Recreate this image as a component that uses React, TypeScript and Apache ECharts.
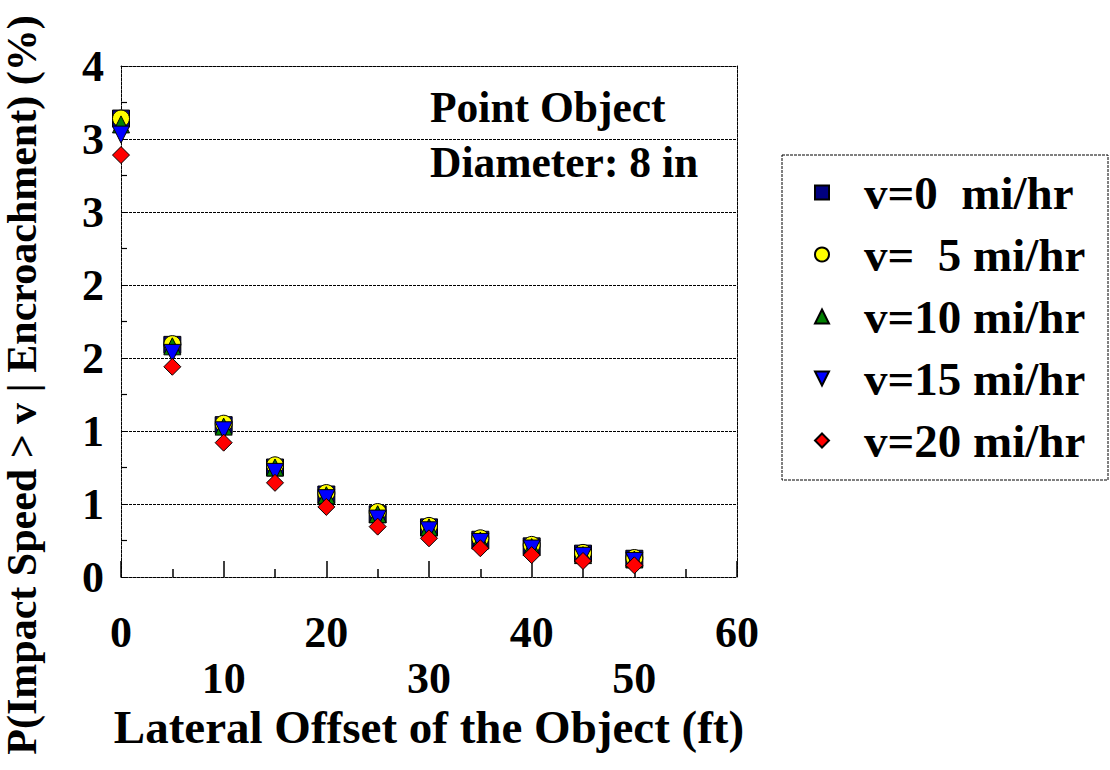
import React, { useEffect, useRef } from 'react';
import * as echarts from 'echarts';

// Lateral offset of the object (ft)
const offsets = [0, 5, 10, 15, 20, 25, 30, 35, 40, 45, 50];

// P(Impact Speed > v | Encroachment) (%)
const pV0 = [3.14, 1.59, 1.04, 0.75, 0.565, 0.43, 0.34, 0.255, 0.21, 0.16, 0.125];
const pV5 = [3.14, 1.595, 1.05, 0.765, 0.575, 0.445, 0.35, 0.265, 0.22, 0.165, 0.13];
const pV10 = [3.1, 1.58, 1.03, 0.75, 0.56, 0.43, 0.34, 0.25, 0.205, 0.15, 0.12];
const pV15 = [3.03, 1.535, 1.005, 0.72, 0.54, 0.4, 0.32, 0.24, 0.195, 0.145, 0.11];
const pV20 = [2.89, 1.44, 0.92, 0.645, 0.48, 0.345, 0.265, 0.197, 0.15, 0.11, 0.08];

const seriesNames = ['v=0  mi/hr', 'v=  5 mi/hr', 'v=10 mi/hr', 'v=15 mi/hr', 'v=20 mi/hr'];
const seriesValues = [pV0, pV5, pV10, pV15, pV20];
const seriesColors = ['#000080', '#FFFF00', '#008000', '#0000FF', '#FF0000'];
const seriesSymbols = ['rect', 'circle', 'triangle', 'path://M0,0L10,0L5,10Z', 'diamond'];

const yTitle = 'P(Impact Speed > v | Encroachment) (%)';
const xTitle = 'Lateral Offset of the Object (ft)';
const noteLines = ['Point Object', 'Diameter: 8 in'];

const FONT = '"Liberation Serif", "Times New Roman", serif';

export default function App() {
  const ref = useRef<HTMLDivElement>(null);
  useEffect(() => {
    const chart = echarts.init(ref.current!, null, { renderer: 'svg' });
    const dotted = { color: '#000', width: 1, type: [3, 1] as any };
    const option: any = {
      animation: false,
      backgroundColor: '#fff',
      grid: { left: 121, right: 373, top: 66, bottom: 193, containLabel: false },
      xAxis: [
        {
          type: 'value',
          min: 0,
          max: 60,
          interval: 10,
          axisLine: { show: true, lineStyle: dotted },
          axisTick: { show: true, inside: true, length: 16, lineStyle: { color: '#000', width: 1.5 } },
          minorTick: { show: true, splitNumber: 2, length: 8, lineStyle: { color: '#000', width: 1.5 } },
          splitLine: { show: false },
          axisLabel: {
            margin: 32,
            fontFamily: FONT,
            fontWeight: 'bold',
            fontSize: 44,
            color: '#000',
            lineHeight: 46,
            formatter: (v: number) => ((v / 10) % 2 === 1 ? '\n' + v : String(v)),
          },
        },
        {
          type: 'value',
          position: 'top',
          min: 0,
          max: 60,
          interval: 10,
          axisLine: { show: true, onZero: false, lineStyle: dotted },
          axisTick: { show: false },
          axisLabel: { show: false },
          splitLine: { show: false },
        },
      ],
      yAxis: [
        {
          type: 'value',
          min: 0,
          max: 3.5,
          interval: 0.5,
          axisLine: { show: true, lineStyle: dotted },
          axisTick: { show: true, inside: true, length: 6, lineStyle: { color: '#000' } },
          minorTick: { show: true, splitNumber: 2, length: 6, lineStyle: { color: '#000', width: 1.2 } },
          splitLine: { show: true, lineStyle: dotted },
          axisLabel: {
            margin: 17,
            fontFamily: FONT,
            fontWeight: 'bold',
            fontSize: 44,
            color: '#000',
            formatter: (v: number) => String(Math.round(v)),
          },
        },
        {
          type: 'value',
          position: 'right',
          min: 0,
          max: 3.5,
          interval: 0.5,
          axisLine: { show: true, onZero: false, lineStyle: dotted },
          axisTick: { show: false },
          axisLabel: { show: false },
          splitLine: { show: false },
        },
      ],
      legend: {
        orient: 'vertical',
        left: 782,
        top: 155,
        padding: [14, 10, 14, 32],
        itemWidth: 14,
        itemHeight: 14,
        itemGap: 15,
        textStyle: {
          fontFamily: FONT,
          fontWeight: 'bold',
          fontSize: 47,
          color: '#000',
          lineHeight: 46,
          padding: [0, 0, 0, 30],
        },
        data: seriesNames,
      },
      series: seriesNames.map((name, i) => ({
        type: 'scatter',
        name,
        symbol: seriesSymbols[i],
        symbolSize: 17,
        symbolKeepAspect: true,
        itemStyle: { color: seriesColors[i], borderColor: '#000', borderWidth: 1, opacity: 1 },
        data: offsets.map((x, j) => [x, seriesValues[i][j]]),
      })),
      graphic: [
        {
          type: 'rect',
          shape: { x: 782, y: 155, width: 326, height: 325 },
          style: { fill: 'none', stroke: '#000', lineWidth: 1, lineDash: [3, 1] },
          z: -1,
        },
        {
          type: 'text',
          x: 22,
          y: 385,
          rotation: Math.PI / 2,
          style: {
            text: yTitle,
            fontFamily: FONT,
            fontWeight: 'bold',
            fontSize: 42,
            fill: '#000',
            align: 'center',
            verticalAlign: 'middle',
          },
        },
        {
          type: 'text',
          x: 429,
          y: 727,
          style: {
            text: xTitle,
            fontFamily: FONT,
            fontWeight: 'bold',
            fontSize: 47,
            lineHeight: 40,
            fill: '#000',
            align: 'center',
            verticalAlign: 'middle',
          },
        },
        {
          type: 'text',
          x: 430,
          y: 107,
          style: {
            text: noteLines[0],
            fontFamily: FONT,
            fontWeight: 'bold',
            fontSize: 43.5,
            fill: '#000',
            align: 'left',
            verticalAlign: 'middle',
          },
        },
        {
          type: 'text',
          x: 430,
          y: 162,
          style: {
            text: noteLines[1],
            fontFamily: FONT,
            fontWeight: 'bold',
            fontSize: 43.5,
            fill: '#000',
            align: 'left',
            verticalAlign: 'middle',
          },
        },
      ],
    };
    chart.setOption(option);
    return () => chart.dispose();
  }, []);
  return (
    <div
      ref={ref}
      style={{ position: 'fixed', left: 0, top: 0, width: 1110, height: 770, background: '#fff' }}
    />
  );
}
